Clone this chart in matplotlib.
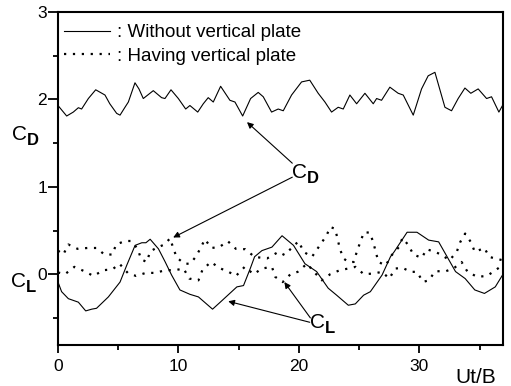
import numpy as np
import matplotlib
matplotlib.use('Agg')
import matplotlib.pyplot as plt

plt.rcParams['font.family'] = ['Liberation Sans', 'DejaVu Sans']

# Werte (x = Ut/B, y = Beiwert)
cd_without = np.array([
    (0, 1.93), (0.72, 1.81), (1.27, 1.855), (1.69, 1.905), (1.96, 1.89), (2.52, 2.01),
    (3.13, 2.11), (3.9, 2.05), (4.3, 1.95), (4.87, 1.84), (5.15, 1.82), (5.56, 1.91),
    (5.84, 1.97), (6.39, 2.19), (6.72, 2.12), (7.08, 2.01), (7.91, 2.10), (8.6, 2.02),
    (8.88, 2.01), (9.38, 2.11), (9.99, 2.01), (10.6, 1.89), (10.95, 1.93), (11.6, 1.855),
    (12.06, 1.95), (12.47, 2.02), (12.89, 1.97), (13.5, 2.15), (14.27, 1.99), (14.69, 1.97),
    (15.33, 1.81), (15.99, 2.01), (16.62, 2.08), (17.04, 2.03), (17.73, 1.855), (18.28, 1.89),
    (18.7, 1.87), (19.39, 2.05), (20.22, 2.2), (20.9, 2.22), (21.6, 2.07), (22.16, 1.97),
    (22.71, 1.855), (23.26, 1.91), (23.68, 1.89), (24.23, 2.05), (24.79, 1.95), (25.48, 2.07),
    (26.17, 1.95), (26.45, 2.01), (26.86, 1.99), (27.55, 2.14), (28.24, 2.07), (28.66, 2.05),
    (29.49, 1.82), (30.18, 2.12), (30.73, 2.27), (31.29, 2.31), (32.12, 1.91), (32.67, 1.87),
    (33.22, 2.01), (33.78, 2.13), (34.27, 2.07), (34.88, 2.12), (35.58, 2.01), (35.99, 2.03),
    (36.6, 1.855), (36.9, 1.93)])

cl_without = np.array([
    (0, -0.09), (0.3, -0.2), (0.86, -0.28), (1.69, -0.32), (2.3, -0.42), (2.8, -0.40),
    (3.2, -0.39), (4.18, -0.26), (5.15, -0.09), (5.7, 0.10), (6.4, 0.33), (6.96, 0.36),
    (7.3, 0.36), (7.65, 0.40), (8.34, 0.29), (8.9, 0.14), (9.43, -0.01), (10.12, -0.18),
    (10.95, -0.23), (11.66, -0.26), (12.83, -0.40), (13.47, -0.32), (14.85, -0.145),
    (15.4, -0.13), (15.96, 0.065), (16.32, 0.20), (16.93, 0.27), (17.76, 0.31), (18.6, 0.44),
    (19.55, 0.33), (20.5, 0.12), (21.47, 0.03), (22.43, -0.16), (23.13, -0.24), (24.1, -0.355),
    (24.68, -0.34), (25.37, -0.24), (25.93, -0.20), (26.9, -0.01), (27.6, 0.20), (27.9, 0.255),
    (28.98, 0.48), (29.8, 0.48), (30.77, 0.39), (31.6, 0.37), (32.3, 0.20), (33.0, 0.03),
    (33.8, -0.05), (34.6, -0.18), (35.4, -0.22), (36.3, -0.145), (36.9, -0.01)])

cd_with = np.array([
    (0, 0.27), (0.44, 0.225), (0.86, 0.34), (1.63, 0.29), (2.44, 0.30), (3.21, 0.30),
    (3.85, 0.225), (4.52, 0.225), (4.82, 0.34), (5.57, 0.38), (6.07, 0.38), (6.62, 0.29),
    (6.9, 0.17), (7.37, 0.14), (7.65, 0.26), (8.15, 0.30), (8.84, 0.34), (9.3, 0.41),
    (9.59, 0.29), (9.86, 0.19), (10.5, 0.12), (10.97, 0.12), (11.44, 0.20), (11.8, 0.29),
    (12.2, 0.40), (12.72, 0.30), (13.38, 0.31), (14.1, 0.377), (14.77, 0.29), (15.54, 0.286),
    (16.32, 0.198), (17.35, 0.18), (18.3, 0.255), (18.8, 0.22), (19.97, 0.377), (20.4, 0.255),
    (21.08, 0.198), (22.3, 0.445), (22.6, 0.54), (23.0, 0.52), (23.2, 0.41), (23.4, 0.29),
    (23.7, 0.18), (24.1, 0.14), (24.55, 0.14), (24.8, 0.255), (25.1, 0.37), (25.4, 0.48),
    (25.9, 0.475), (26.2, 0.35), (26.6, 0.14), (27.2, 0.10), (27.7, 0.217), (28.3, 0.31),
    (28.6, 0.415), (29.1, 0.33), (29.5, 0.225), (30.2, 0.187), (30.6, 0.286), (31.3, 0.255),
    (31.8, 0.225), (32.5, 0.16), (33.1, 0.255), (33.4, 0.37), (33.8, 0.465), (34.3, 0.362),
    (34.6, 0.255), (35.4, 0.30), (35.8, 0.198), (36.3, 0.18), (36.9, 0.16)])

cl_with = np.array([
    (0, 0.02), (0.58, 0.0), (1.36, 0.084), (2.19, 0.034), (2.94, -0.02), (3.77, 0.046),
    (4.52, 0.055), (5.1, 0.12), (5.79, 0.015), (6.48, -0.02), (7.29, 0.015), (8.1, 0.015),
    (8.89, 0.046), (9.72, 0.046), (10.42, 0.065), (10.9, -0.05), (11.66, -0.07), (12.0, 0.053),
    (12.7, 0.14), (13.38, 0.072), (14.16, 0.027), (14.77, -0.02), (15.5, 0.084), (16.24, 0.0),
    (16.93, 0.065), (17.76, 0.084), (18.03, -0.03), (18.65, -0.09), (19.3, 0.0), (19.9, 0.027),
    (20.67, 0.12), (21.3, 0.02), (21.9, -0.07), (22.6, 0.0), (23.4, 0.046), (24.1, 0.065),
    (24.7, 0.084), (25.38, 0.0), (26.2, 0.008), (26.9, 0.027), (27.5, -0.05), (28.0, 0.065),
    (28.6, 0.072), (29.3, 0.027), (29.8, 0.027), (30.3, -0.088), (30.8, -0.07), (31.3, 0.034),
    (32.2, 0.034), (32.9, 0.072), (33.5, 0.14), (34.0, 0.027), (34.8, -0.03), (35.6, -0.02),
    (36.2, 0.034), (36.9, 0.103)])

x_ticks = [0, 10, 20, 30]
y_ticks = [0, 1, 2, 3]

W, H = 511, 386
fig = plt.figure(figsize=(W / 100, H / 100), dpi=100)
ax = fig.add_axes([58 / W, 1 - 345 / H, 444.5 / W, 333 / H])

dots = (0, (1, 3))
ax.plot(cd_without[:, 0], cd_without[:, 1], 'k-', lw=0.8, label=': Without vertical plate')
ax.plot(cl_without[:, 0], cl_without[:, 1], 'k-', lw=0.8)
ax.plot(cd_with[:, 0], cd_with[:, 1], color='k', lw=1.6, ls=dots, dash_capstyle='butt',
        label=': Having vertical plate')
ax.plot(cl_with[:, 0], cl_with[:, 1], color='k', lw=1.6, ls=dots, dash_capstyle='butt')

ax.set_xlim(0, 36.9)
ax.set_ylim(-0.81, 3)
ax.set_xticks(x_ticks)
ax.set_xticks([5, 15, 25, 35], minor=True)
ax.set_yticks(y_ticks)
ax.set_yticks([-0.5, 0.5, 1.5, 2.5], minor=True)
ax.tick_params(which='both', direction='out', width=1.3, labelsize=12.5, top=False, right=False)
ax.tick_params(axis='y', which='major', length=7, pad=1)
ax.tick_params(axis='y', which='minor', length=3.5)
ax.tick_params(axis='x', which='major', length=6, pad=4)
ax.tick_params(axis='x', which='minor', length=3.5)
for s in ax.spines.values():
    s.set_linewidth(1.5)

ax.legend(loc='upper left', bbox_to_anchor=(0.0, 0.98), frameon=False, fontsize=13.5,
          handlelength=2.45, handletextpad=0.4, labelspacing=0.33, borderaxespad=0,
          borderpad=0.3)


def px(x, y):
    return x / W, 1 - y / H


def c_label(x, y, sub, size=15):
    # "C" mit fettem Index, Position in Pixeln (Grundlinie)
    fig.text(*px(x, y), 'C', fontsize=size, va='baseline')
    fig.text(*px(x + 14.5, y + 5), sub, fontsize=size * 0.8, fontweight='bold', va='baseline')


c_label(12, 140, 'D')
c_label(11, 287, 'L')
c_label(292, 178, 'D')
c_label(310, 328, 'L')
fig.text(*px(455, 383), 'Ut/B', fontsize=15, va='baseline')

arrow = dict(arrowstyle='-|>', color='k', lw=0.8, mutation_scale=9, shrinkA=0, shrinkB=0)
ax.annotate('', xy=(15.69, 1.74), xytext=(19.45, 1.27), arrowprops=arrow)
ax.annotate('', xy=(9.56, 0.42), xytext=(19.45, 1.11), arrowprops=arrow)
ax.annotate('', xy=(18.79, -0.09), xytext=(20.95, -0.50), arrowprops=arrow)
ax.annotate('', xy=(14.13, -0.31), xytext=(20.9, -0.55), arrowprops=arrow)

fig.savefig('out.png', dpi=100)
